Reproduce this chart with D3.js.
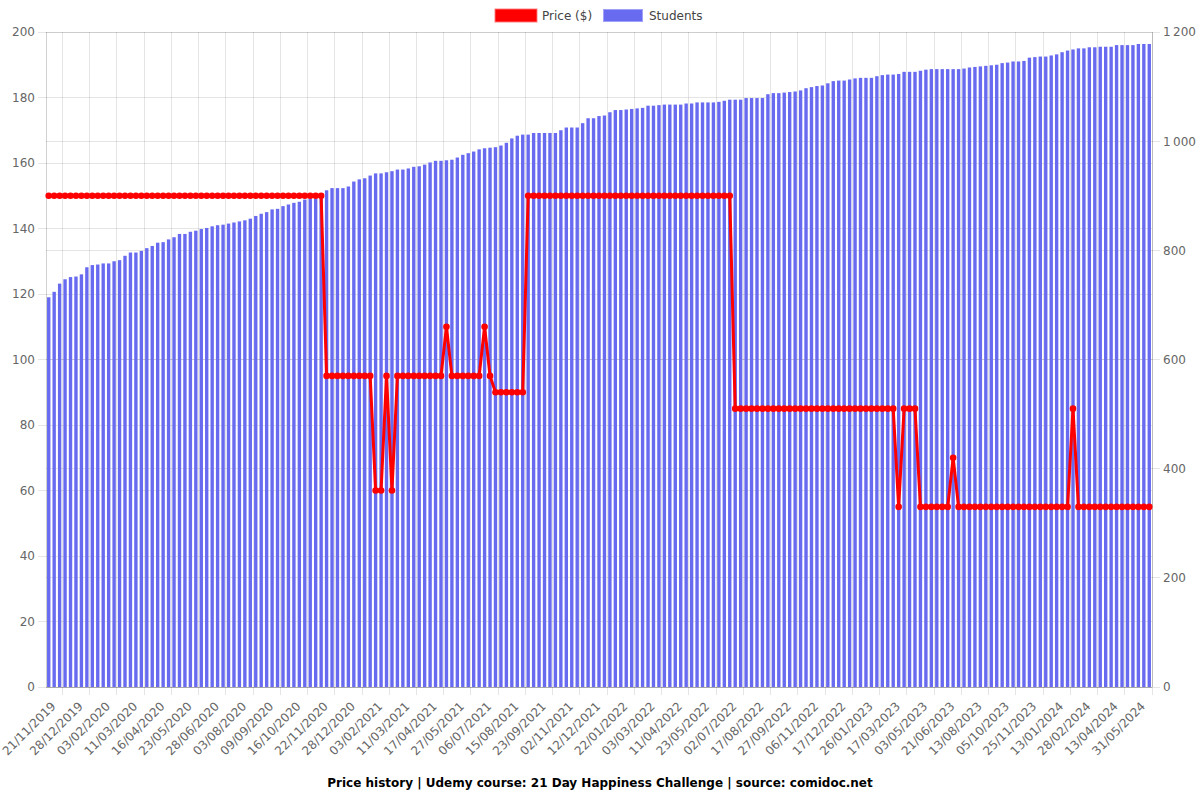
<!DOCTYPE html>
<html>
<head>
<meta charset="utf-8">
<script src="https://cdn.jsdelivr.net/npm/d3@7"></script>
<style>
  html, body { margin: 0; padding: 0; background: #ffffff; }
  svg { display: block; font-family: "DejaVu Sans", sans-serif; }
</style>
</head>
<body>
<svg id="chart" width="1200" height="800"></svg>
<script>
// ---- data ----
const students = [
  714, 724, 739, 747, 751, 752, 756, 769, 773, 774,
  776, 776, 780, 782, 790, 796, 796, 799, 804, 808,
  814, 815, 820, 824, 830, 830, 834, 836, 839, 841,
  844, 846, 847, 849, 851, 853, 855, 858, 863, 867,
  870, 875, 876, 881, 884, 887, 889, 893, 895, 895,
  898, 910, 914, 914, 914, 917, 926, 930, 932, 937,
  941, 941, 943, 945, 948, 948, 950, 953, 954, 957,
  961, 964, 964, 965, 966, 970, 975, 978, 981, 985,
  987, 988, 989, 992, 997, 1005, 1010, 1012, 1012, 1015,
  1015, 1015, 1015, 1015, 1020, 1025, 1025, 1025, 1033, 1042,
  1042, 1046, 1047, 1053, 1057, 1057, 1058, 1059, 1060, 1061,
  1065, 1065, 1066, 1067, 1067, 1067, 1067, 1069, 1069, 1071,
  1071, 1071, 1071, 1072, 1074, 1076, 1076, 1076, 1079, 1079,
  1079, 1079, 1086, 1088, 1088, 1089, 1090, 1091, 1093, 1097,
  1099, 1101, 1102, 1106, 1110, 1111, 1111, 1113, 1115, 1116,
  1116, 1116, 1119, 1121, 1122, 1122, 1123, 1127, 1127, 1127,
  1129, 1131, 1132, 1132, 1132, 1132, 1132, 1132, 1133, 1135,
  1136, 1137, 1138, 1139, 1140, 1143, 1144, 1146, 1146, 1147,
  1153, 1154, 1155, 1155, 1157, 1159, 1163, 1166, 1168, 1170,
  1170, 1172, 1172, 1173, 1173, 1173, 1176, 1176, 1176, 1176,
  1178, 1178, 1178
];

const prices = [
  150, 150, 150, 150, 150, 150, 150, 150, 150, 150,
  150, 150, 150, 150, 150, 150, 150, 150, 150, 150,
  150, 150, 150, 150, 150, 150, 150, 150, 150, 150,
  150, 150, 150, 150, 150, 150, 150, 150, 150, 150,
  150, 150, 150, 150, 150, 150, 150, 150, 150, 150,
  150, 95, 95, 95, 95, 95, 95, 95, 95, 95,
  60, 60, 95, 60, 95, 95, 95, 95, 95, 95,
  95, 95, 95, 110, 95, 95, 95, 95, 95, 95,
  110, 95, 90, 90, 90, 90, 90, 90, 150, 150,
  150, 150, 150, 150, 150, 150, 150, 150, 150, 150,
  150, 150, 150, 150, 150, 150, 150, 150, 150, 150,
  150, 150, 150, 150, 150, 150, 150, 150, 150, 150,
  150, 150, 150, 150, 150, 150, 85, 85, 85, 85,
  85, 85, 85, 85, 85, 85, 85, 85, 85, 85,
  85, 85, 85, 85, 85, 85, 85, 85, 85, 85,
  85, 85, 85, 85, 85, 85, 55, 85, 85, 85,
  55, 55, 55, 55, 55, 55, 70, 55, 55, 55,
  55, 55, 55, 55, 55, 55, 55, 55, 55, 55,
  55, 55, 55, 55, 55, 55, 55, 55, 85, 55,
  55, 55, 55, 55, 55, 55, 55, 55, 55, 55,
  55, 55, 55
];

const tickLabels = [
  "21/11/2019", "28/12/2019", "03/02/2020", "11/03/2020", "16/04/2020",
  "23/05/2020", "28/06/2020", "03/08/2020", "09/09/2020", "16/10/2020",
  "22/11/2020", "28/12/2020", "03/02/2021", "11/03/2021", "17/04/2021",
  "27/05/2021", "06/07/2021", "15/08/2021", "23/09/2021", "02/11/2021",
  "12/12/2021", "22/01/2022", "03/03/2022", "11/04/2022", "23/05/2022",
  "02/07/2022", "17/08/2022", "27/09/2022", "06/11/2022", "17/12/2022",
  "26/01/2023", "17/03/2023", "03/05/2023", "21/06/2023", "13/08/2023",
  "05/10/2023", "25/11/2023", "13/01/2024", "28/02/2024", "13/04/2024",
  "31/05/2024"
];
const firstLabelIndex = 2;
const labelEvery = 5;

const priceTicks = [0, 20, 40, 60, 80, 100, 120, 140, 160, 180, 200];
const studentTicks = [0, 200, 400, 600, 800, 1000, 1200];

const seriesNames = ["Price ($)", "Students"];
const titleText = "Price history | Udemy course: 21 Day Happiness Challenge | source: comidoc.net";

// ---- layout ----
const L = 46, R = 1152, T = 32, B = 687;
const gridColor = "rgba(0,0,0,0.1)";
const textColor = "#666";
const barColor = "rgb(104,107,240)";
const lineColor = "#ff0000";

const svg = d3.select("#chart");
const idx = d3.range(students.length);

const x = d3.scaleBand().domain(idx).range([L, R]).paddingInner(0.38).paddingOuter(0.19);
const step = x.step();
const yL = d3.scaleLinear().domain([0, 200]).range([B, T]);
const yR = d3.scaleLinear().domain([0, 1200]).range([B, T]);

const fmtSpace = d3.formatLocale({ decimal: ".", thousands: "\u2009", grouping: [3], currency: ["", ""] }).format(",");

const tickIdx = tickLabels.map((_, k) => firstLabelIndex + k * labelEvery);
const labelOf = new Map(tickIdx.map((v, k) => [v, tickLabels[k]]));
// gridline position for a labelled category (right edge of its slot)
const gx = i => x(i) + x.bandwidth() / 2 + step / 2;

// ---- grid ----
const grid = svg.append("g");
priceTicks.forEach(v => {
  grid.append("line").attr("x1", L - 8).attr("x2", R).attr("y1", yL(v)).attr("y2", yL(v))
    .attr("stroke", gridColor).attr("stroke-width", 1).attr("shape-rendering", "crispEdges");
});
studentTicks.forEach(v => {
  grid.append("line").attr("x1", L).attr("x2", R + 8).attr("y1", yR(v)).attr("y2", yR(v))
    .attr("stroke", gridColor).attr("stroke-width", 1).attr("shape-rendering", "crispEdges");
});
tickIdx.forEach(i => {
  grid.append("line").attr("x1", gx(i)).attr("x2", gx(i)).attr("y1", T).attr("y2", B + 8)
    .attr("stroke", gridColor).attr("stroke-width", 1).attr("shape-rendering", "crispEdges");
});
// plot borders
grid.append("line").attr("x1", L).attr("x2", L).attr("y1", T).attr("y2", B)
  .attr("stroke", "rgba(0,0,0,0.18)").attr("shape-rendering", "crispEdges");
grid.append("line").attr("x1", R).attr("x2", R).attr("y1", T).attr("y2", B)
  .attr("stroke", "rgba(0,0,0,0.18)").attr("shape-rendering", "crispEdges");
grid.append("line").attr("x1", L).attr("x2", R).attr("y1", B).attr("y2", B)
  .attr("stroke", "rgba(0,0,0,0.18)").attr("shape-rendering", "crispEdges");

// ---- bars ----
svg.append("g").selectAll("rect").data(idx).join("rect")
  .attr("x", i => x(i))
  .attr("width", x.bandwidth())
  .attr("y", i => yR(students[i]))
  .attr("height", i => B - yR(students[i]))
  .attr("fill", barColor);

// ---- price line ----
const line = d3.line().x(i => x(i) + x.bandwidth() / 2).y(i => yL(prices[i]));
svg.append("path").datum(idx).attr("d", line)
  .attr("fill", "none").attr("stroke", lineColor).attr("stroke-width", 3)
  .attr("stroke-linejoin", "miter");
svg.append("g").selectAll("circle").data(idx).join("circle")
  .attr("cx", i => x(i) + x.bandwidth() / 2)
  .attr("cy", i => yL(prices[i]))
  .attr("r", 3.3)
  .attr("fill", lineColor);

// ---- axes ----
const axL = d3.axisLeft(yL).tickValues(priceTicks).tickSize(0).tickPadding(11);
const gL = svg.append("g").attr("transform", `translate(${L},0)`).call(axL);
gL.select(".domain").remove();
gL.selectAll("text").attr("fill", textColor).attr("font-size", 12).attr("font-family", "DejaVu Sans");

const axR = d3.axisRight(yR).tickValues(studentTicks).tickSize(0).tickPadding(11).tickFormat(fmtSpace);
const gR = svg.append("g").attr("transform", `translate(${R},0)`).call(axR);
gR.select(".domain").remove();
gR.selectAll("text").attr("fill", textColor).attr("font-size", 12).attr("font-family", "DejaVu Sans");

const axB = d3.axisBottom(x).tickValues(tickIdx).tickSize(0).tickFormat(i => labelOf.get(i));
const gB = svg.append("g").attr("transform", `translate(${step / 2},${B})`).call(axB);
gB.select(".domain").remove();
gB.selectAll("text")
  .attr("fill", textColor).attr("font-size", 12).attr("font-family", "DejaVu Sans")
  .attr("text-anchor", "end")
  .attr("dy", null).attr("y", null)
  .attr("transform", "translate(-6,20) rotate(-45)");

// ---- legend ----
const lg = svg.append("g");
lg.append("rect").attr("x", 495).attr("y", 9).attr("width", 42).attr("height", 13)
  .attr("fill", lineColor).attr("stroke", "rgba(255,120,120,0.9)").attr("stroke-width", 1);
lg.append("text").attr("x", 542).attr("y", 20).attr("font-size", 12).attr("fill", "#444").text(seriesNames[0]);
lg.append("rect").attr("x", 603.5).attr("y", 9.5).attr("width", 39).attr("height", 12)
  .attr("fill", barColor).attr("stroke", "rgba(160,162,250,1)").attr("stroke-width", 1);
lg.append("text").attr("x", 649).attr("y", 20).attr("font-size", 12).attr("fill", "#444").text(seriesNames[1]);

// ---- title ----
svg.append("text").attr("x", 600).attr("y", 787).attr("text-anchor", "middle")
  .attr("font-size", 12).attr("font-weight", "bold").attr("fill", "#000").text(titleText);
</script>
</body>
</html>
